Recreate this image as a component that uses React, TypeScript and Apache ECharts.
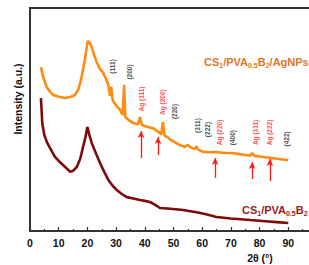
import React, { useEffect, useRef } from "react";
import * as echarts from "echarts";

// 2θ positions and intensities (a.u.) for CS1/PVA0.5B2/AgNPs (orange)
const agX = [3.8, 4.6, 5.8, 7, 8.1, 10, 12.2, 14, 15.7, 17, 18, 19.2, 20.1, 20.8, 21.5, 22.3, 23.2, 24.4, 25.5, 26.5, 27.3, 27.9, 28.3, 28.8, 30, 31.4, 32.3, 32.8, 33.2, 34.5, 36, 37.6, 38.3, 39.0, 40.5, 43, 45.0, 45.7, 46.3, 46.9, 48, 49, 50.5, 52, 54, 55, 56, 57.5, 58, 58.6, 60, 62, 65, 67.5, 70, 72.5, 75, 76.8, 77.4, 78.2, 80, 83.6, 86, 88, 90];
const agY = [73.5, 69, 64.6, 62.4, 61.0, 60.2, 59.6, 60.1, 61.0, 64.0, 69.1, 77.5, 85.2, 84.4, 82.5, 79.2, 75.8, 72.6, 70.9, 68.2, 65.5, 60.5, 64.6, 58.7, 56.3, 54.3, 52.0, 65.5, 51.1, 49.6, 48.4, 47.8, 51.1, 47.5, 46.9, 46.0, 44.2, 43.2, 48.8, 42.8, 42.0, 40.8, 39.8, 38.6, 37.8, 38.6, 37.4, 36.8, 38.0, 36.5, 35.6, 35.3, 35.4, 35.0, 35.0, 34.6, 34.1, 33.8, 35.0, 33.7, 33.4, 32.8, 32.4, 32.1, 31.8];

// 2θ positions and intensities (a.u.) for CS1/PVA0.5B2 (dark red)
const blankX = [3.8, 4.3, 5, 6, 7, 8.7, 10, 11.5, 13, 14, 15, 16.3, 17.5, 18.5, 19.3, 20, 20.7, 21.5, 23, 24.4, 26, 27.3, 28.8, 30.2, 32, 33.7, 36, 38.3, 40, 41.8, 43.5, 45.3, 49, 53.3, 58, 61, 65, 70, 76.7, 82, 86, 90];
const blankY = [59.6, 48.0, 43.0, 39.5, 37.2, 33.2, 31.4, 29.6, 27.8, 26.5, 27.0, 28.7, 32.4, 37.7, 42.0, 46.6, 43.0, 39.5, 34.8, 30.5, 26.2, 22.9, 20.3, 18.4, 16.6, 15.2, 14.6, 13.9, 13.5, 13.0, 11.8, 10.3, 10.0, 9.4, 8.4, 7.6, 6.3, 5.6, 4.9, 4.4, 4.0, 3.6];

// Reflection labels
const peakNames = ["(111)", "(200)", "Ag (111)", "Ag (200)", "(220)", "(311)", "(222)", "Ag (220)", "(400)", "Ag (311)", "Ag (222)", "(422)"];
const peakLabelX = [28.9, 34.5, 39.0, 46.0, 50.5, 58.2, 61.7, 66.2, 70.7, 78.4, 83.6, 89.5];
const peakLabelY = [73.8, 71.3, 59.2, 57.8, 53.6, 47.3, 45.5, 44.2, 41.9, 44.2, 44.2, 41.3];

// Ag marker arrows
const arrowX = [38.7, 44.6, 64.5, 77.4, 83.6];
const arrowFrom = [32.7, 34.1, 23.8, 23.3, 22.4];
const arrowTo = [44.8, 42.2, 32.7, 30.9, 32.3];

const xTicks = [0, 10, 20, 30, 40, 50, 60, 70, 80, 90];

export default function App() {
  const ref = useRef<HTMLDivElement>(null);
  useEffect(() => {
    if (!ref.current) return;
    const chart = echarts.init(ref.current, null, { renderer: "svg" });
    const font = "Arial, 'Liberation Sans', sans-serif";
    const richFor = (color: string) => ({
      m: { fontFamily: font, fontWeight: "bold", fontSize: 11, lineHeight: 11, verticalAlign: "top", fill: color },
      s: { fontFamily: font, fontWeight: "bold", fontSize: 7, lineHeight: 13, verticalAlign: "bottom", fill: color },
    });
    chart.setOption({
      animation: false,
      grid: { left: 30, top: 8, width: 287, height: 223, show: true, borderColor: "#333", borderWidth: 2, backgroundColor: "transparent" },
      xAxis: {
        type: "value",
        min: 0,
        max: 100,
        interval: 10,
        axisLine: { lineStyle: { color: "#333", width: 2 } },
        axisTick: { inside: true, length: 4, lineStyle: { color: "#333", width: 1.2 } },
        minorTick: { show: true, splitNumber: 2, length: 2, lineStyle: { color: "#333", width: 1.2 } },
        splitLine: { show: false },
        axisLabel: {
          color: "#111",
          fontFamily: font,
          fontWeight: "bold",
          fontSize: 10.5,
          margin: 6,
          formatter: (v: number) => (xTicks.includes(v) ? String(v) : ""),
        },
      },
      yAxis: {
        type: "value",
        min: 0,
        max: 100,
        axisLine: { show: true, lineStyle: { color: "#333", width: 2 } },
        axisTick: { show: false },
        axisLabel: { show: false },
        splitLine: { show: false },
      },
      series: [
        {
          type: "line",
          data: blankX.map((x, i) => [x, blankY[i]]),
          showSymbol: false,
          lineStyle: { color: "#7E0A0A", width: 2.6 },
          z: 2,
        },
        {
          type: "line",
          data: agX.map((x, i) => [x, agY[i]]),
          showSymbol: false,
          lineStyle: { color: "#FF8C10", width: 2.6 },
          z: 3,
          markLine: {
            silent: true,
            symbol: ["none", "arrow"],
            symbolSize: [5, 7],
            label: { show: false },
            lineStyle: { color: "#FF1A1A", width: 1.3, type: "solid" },
            data: arrowX.map((x, i) => [
              { coord: [x, arrowFrom[i]] },
              { coord: [x, arrowTo[i]] },
            ]),
          },
        },
        {
          type: "scatter",
          symbolSize: 0,
          silent: true,
          data: peakNames.map((n, i) => ({
            name: n,
            value: [peakLabelX[i], peakLabelY[i]],
            label: { color: n.startsWith("Ag") ? "#FF1A1A" : "#222" },
          })),
          label: {
            show: true,
            position: "inside",
            rotate: 90,
            formatter: (p: any) => p.name,
            fontFamily: font,
            fontWeight: "bold",
            fontSize: 6.5,
          },
          z: 5,
        },
      ],
      graphic: [
        {
          type: "text",
          x: 18,
          y: 99,
          rotation: Math.PI / 2,
          style: {
            text: "Intensity (a.u.)",
            fontFamily: font,
            fontWeight: "bold",
            fontSize: 10.5,
            fill: "#111",
            align: "center",
            verticalAlign: "middle",
          },
        },
        {
          type: "text",
          x: 260,
          y: 258,
          style: {
            text: "2θ (°)",
            fontFamily: font,
            fontWeight: "bold",
            fontSize: 10.5,
            fill: "#111",
            align: "center",
            verticalAlign: "middle",
          },
        },
        {
          type: "text",
          x: 204,
          y: 56,
          style: {
            text: "{m|CS}{s|1}{m|/PVA}{s|0.5}{m|B}{s|2}{m|/AgNPs}",
            rich: richFor("#E0761F"),
          },
        },
        {
          type: "text",
          x: 242,
          y: 204,
          style: {
            text: "{m|CS}{s|1}{m|/PVA}{s|0.5}{m|B}{s|2}",
            rich: richFor("#9B1C1C"),
          },
        },
      ],
    });
    return () => chart.dispose();
  }, []);
  return (
    <div style={{ position: "fixed", left: 0, top: 0, width: 309, height: 265, overflow: "hidden", background: "#fff" }}>
      <div ref={ref} style={{ width: 330, height: 265 }} />
    </div>
  );
}
